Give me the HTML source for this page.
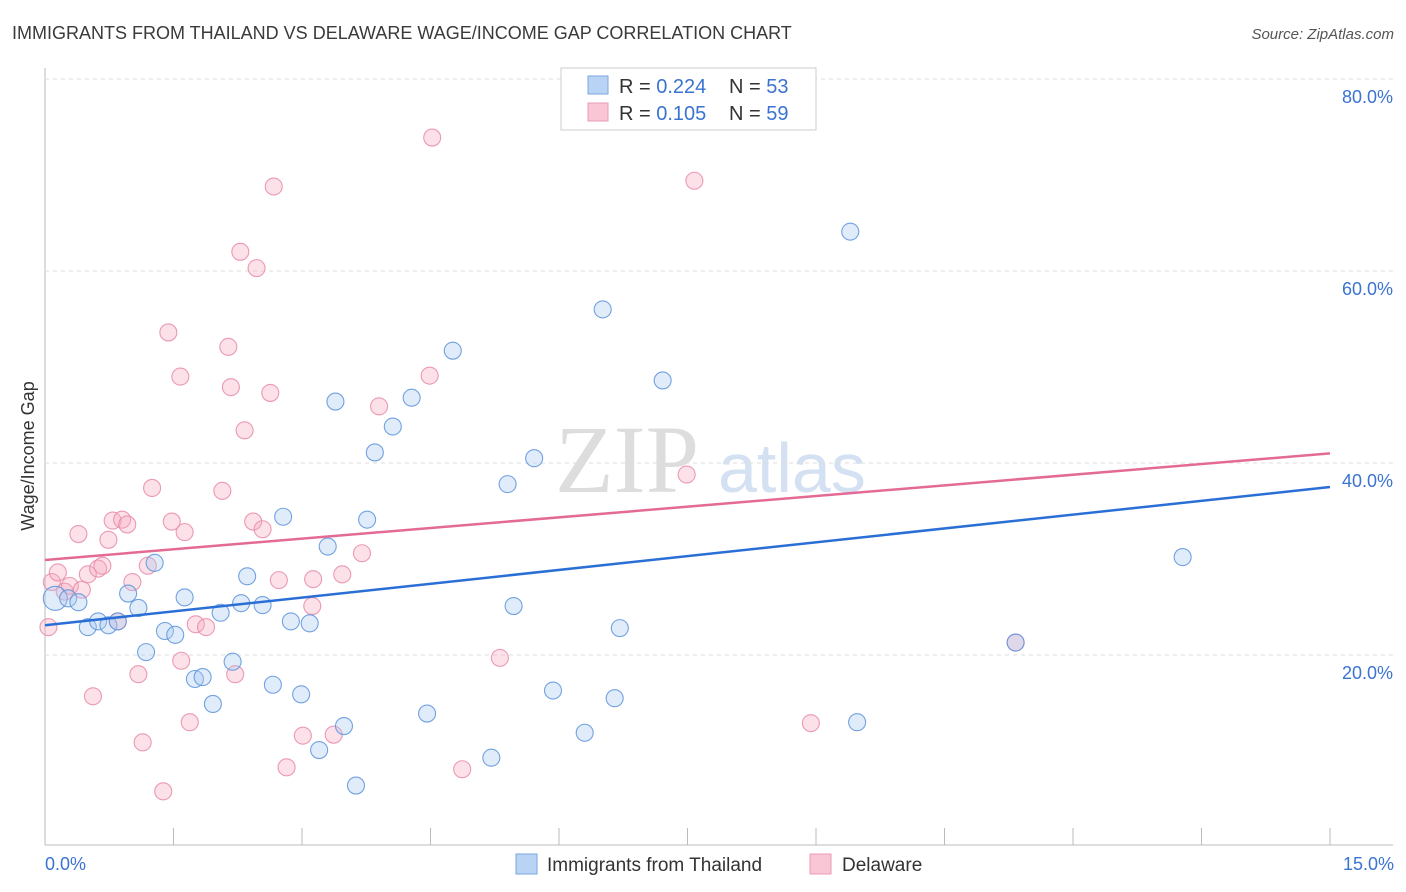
<!DOCTYPE html>
<html><head><meta charset="utf-8">
<style>
body{margin:0;background:#fff;font-family:"Liberation Sans",sans-serif;}
#wrap{position:relative;width:1406px;height:892px;overflow:hidden;}
</style></head>
<body>
<div id="wrap">
<svg id="svg" width="1406" height="892">
<text x="12" y="39" font-size="18" fill="#3a3a3a">IMMIGRANTS FROM THAILAND VS DELAWARE WAGE/INCOME GAP CORRELATION CHART</text>
<text x="1394" y="39" font-size="15" fill="#555" text-anchor="end" font-style="italic">Source: ZipAtlas.com</text>
<text x="34" y="456" font-size="18" fill="#333" text-anchor="middle" transform="rotate(-90 34 456)">Wage/Income Gap</text>
<text x="555" y="492" font-size="96" fill="#ddd" font-family="Liberation Serif">ZIP</text>
<text x="718" y="492" font-size="70" fill="#d3e1f3">atlas</text>
<g id="grid"></g><g id="pts"></g><g id="lines"></g>
<rect x="561" y="68" width="255" height="62" fill="#fff" stroke="#ccc"/>
<rect x="588" y="76" width="20" height="18" fill="#b9d3f5" stroke="#7aa7e0"/>
<rect x="588" y="103" width="20" height="18" fill="#f9c6d5" stroke="#eb9ab2"/>
<text x="619" y="93" font-size="20" fill="#333">R = <tspan fill="#3b73d1">0.224</tspan></text>
<text x="729" y="93" font-size="20" fill="#333">N = <tspan fill="#3b73d1">53</tspan></text>
<text x="619" y="120" font-size="20" fill="#333">R = <tspan fill="#3b73d1">0.105</tspan></text>
<text x="729" y="120" font-size="20" fill="#333">N = <tspan fill="#3b73d1">59</tspan></text>
<text x="45" y="870" font-size="18" fill="#3b73d1">0.0%</text>
<text x="1394" y="870" font-size="18" fill="#3b73d1" text-anchor="end">15.0%</text>
<rect x="516" y="854" width="21" height="20" fill="#b9d3f5" stroke="#7aa7e0"/>
<text x="547" y="871" font-size="19" fill="#333">Immigrants from Thailand</text>
<rect x="810" y="854" width="21" height="20" fill="#f9c6d5" stroke="#eb9ab2"/>
<text x="842" y="871" font-size="19" fill="#333">Delaware</text>
</svg>
</div>
<script>
const yTicks=[20,40,60,80];
const yTickLabels=["20.0%","40.0%","60.0%","80.0%"];
const xTicks=[0,1.5,3,4.5,6,7.5,9,10.5,12,13.5,15];
const blueX=[.12,.27,.39,.50,.62,.74,.85,.97,1.09,1.18,1.28,1.40,1.52,1.63,1.75,1.84,1.96,2.05,2.19,2.29,2.36,2.54,2.66,2.78,2.87,2.99,3.09,3.20,3.30,3.39,3.49,3.63,3.76,3.85,4.06,4.28,4.46,4.76,5.21,5.40,5.47,5.71,5.93,6.30,6.51,6.65,6.71,7.21,9.40,9.48,11.33,13.28];
const blueY=[25.9,25.9,25.5,22.9,23.5,23.1,23.5,26.4,24.9,20.3,29.6,22.5,22.1,26.0,17.5,17.7,14.9,24.4,19.3,25.4,28.2,25.2,16.9,34.4,23.5,15.9,23.3,10.1,31.3,46.4,12.6,6.4,34.1,41.1,43.8,46.8,13.9,51.7,9.3,37.8,25.1,40.5,16.3,11.9,56.0,15.5,22.8,48.6,64.1,13.0,21.3,30.2];
const pinkX=[.04,.08,.15,.23,.29,.39,.43,.50,.56,.62,.67,.74,.79,.85,.90,.96,1.02,1.09,1.14,1.20,1.25,1.38,1.44,1.48,1.58,1.59,1.63,1.69,1.76,1.88,2.07,2.14,2.17,2.22,2.28,2.33,2.43,2.47,2.54,2.63,2.67,2.73,2.82,3.01,3.12,3.13,3.37,3.47,3.70,3.90,4.49,4.52,4.87,5.31,7.49,7.58,8.94,11.33];
const pinkY=[22.9,27.6,28.6,26.6,27.2,32.6,26.8,28.4,15.7,29.0,29.3,32.0,34.0,23.5,34.1,33.6,27.6,18.0,10.9,29.3,37.4,5.8,53.6,33.9,49.0,19.4,32.8,13.0,23.2,22.9,37.1,52.1,47.9,18.0,62.0,43.4,33.9,60.3,33.1,47.3,68.8,27.8,8.3,11.6,25.1,27.9,11.7,28.4,30.6,45.9,49.1,73.9,8.1,19.7,38.8,69.4,12.9,21.3];
const blueTrend=[23.1,37.5];
const pinkTrend=[29.9,41.0];
const NS="http://www.w3.org/2000/svg";
const X=v=>45+v/15*1285, Y=v=>847-v*9.6;
function mk(t,a,p){const e=document.createElementNS(NS,t);for(const k in a)e.setAttribute(k,a[k]);p.appendChild(e);return e;}
const g=document.getElementById('grid');
let ax=mk('line',{x1:45,y1:68,x2:45,y2:845,stroke:'#bbb'},g);


let bx=mk('line',{x1:45,y1:845,x2:1393,y2:845,stroke:'#bbb'},g);


yTicks.forEach((t,i)=>{
 const l=mk('line',{x1:45,x2:1393,y1:Y(t),y2:Y(t),stroke:'#ddd','stroke-dasharray':'4 4'},g);
 
 
 const tx=mk('text',{x:1393,y:Y(t)+24,'font-size':18,fill:'#3b73d1','text-anchor':'end'},g);
 tx.textContent=yTickLabels[i];
 
 
});
xTicks.forEach(t=>{
 const l=mk('line',{x1:X(t),x2:X(t),y1:828,y2:845,stroke:'#bbb'},g);
 
 
});
const p=document.getElementById('pts');
function dots(xs,ys,fill,stroke,name){xs.forEach((x,i)=>{
 const c=mk('circle',{cx:X(x),cy:Y(ys[i]),r:(i===0&&name==='blue-point')?12:8.5,fill:fill,'fill-opacity':0.35,stroke:stroke,'stroke-width':1.1,'stroke-opacity':0.85},p);
 
 
});}
dots(pinkX,pinkY,'#f5a9c0','#e88aa8','pink-point');
dots(blueX,blueY,'#a8c8f0','#5b93dc','blue-point');
const L=document.getElementById('lines');
let bl=mk('line',{x1:X(0),y1:Y(blueTrend[0]),x2:X(15),y2:Y(blueTrend[1]),stroke:'#2a6fd6','stroke-width':2.5},L);


let pl=mk('line',{x1:X(0),y1:Y(pinkTrend[0]),x2:X(15),y2:Y(pinkTrend[1]),stroke:'#e46a96','stroke-width':2.5},L);


</script>
</body></html>
